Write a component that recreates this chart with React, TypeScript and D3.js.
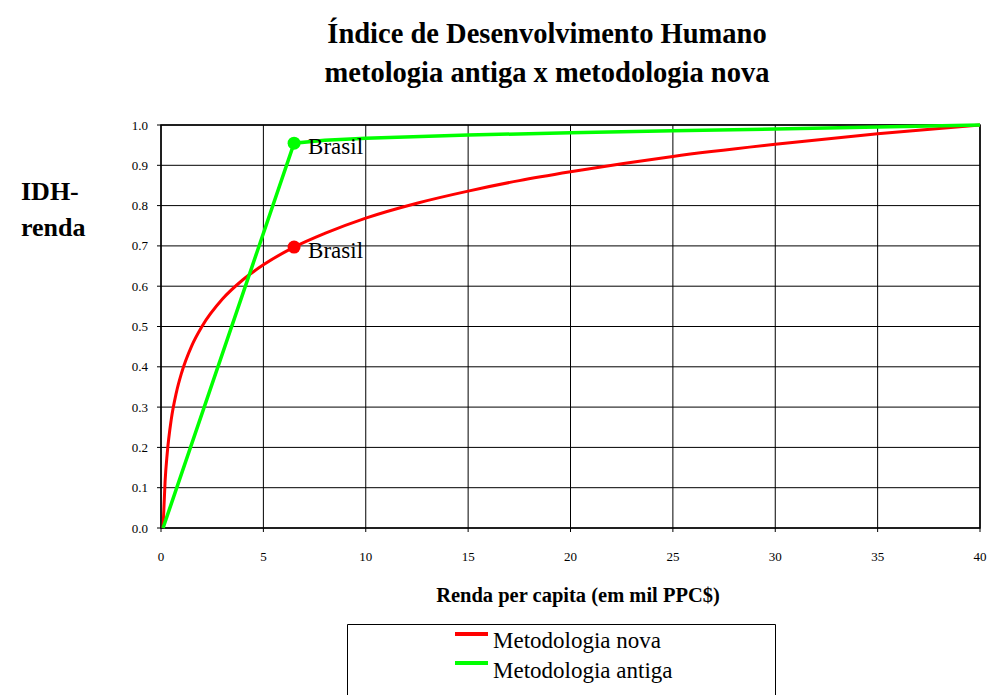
import React, { useEffect, useRef } from 'react';
import * as d3 from 'd3';

// renda per capita (mil PPC$) e IDH-renda
const novaX = [0.1, 0.2, 0.3, 0.5, 0.75, 1, 1.5, 2, 3, 4, 5, 6.5, 8, 10, 12.5, 15, 17.5, 20, 25, 30, 35, 40];
const novaY = [0.0, 0.116, 0.183, 0.269, 0.336, 0.384, 0.452, 0.5, 0.568, 0.616, 0.653, 0.697, 0.731, 0.769, 0.806, 0.836, 0.862, 0.884, 0.922, 0.952, 0.978, 1.0];
const antigaX = [0.1, 6.5, 8, 10, 15, 20, 25, 30, 35, 40];
const antigaY = [0.0, 0.955, 0.962, 0.967, 0.975, 0.981, 0.986, 0.99, 0.995, 1.0];
const brasilX = 6.5;
const brasilNova = 0.697;
const brasilAntiga = 0.955;
const xTicks = [0, 5, 10, 15, 20, 25, 30, 35, 40];
const yTicks = [0, 0.1, 0.2, 0.3, 0.4, 0.5, 0.6, 0.7, 0.8, 0.9, 1.0];
const legendLabels = ['Metodologia nova', 'Metodologia antiga'];
const colors = ['#ff0000', '#00ff00'];

export default function App() {
  const ref = useRef<SVGSVGElement>(null);

  useEffect(() => {
    const width = 988;
    const height = 695;
    const left = 161, right = 980, top = 125, bottom = 528;
    const font = '"Liberation Serif", "Times New Roman", serif';

    const svg = d3.select(ref.current);
    svg.selectAll('*').remove();
    svg.attr('width', width).attr('height', height);

    const x = d3.scaleLinear().domain([0, 40]).range([left, right]);
    const y = d3.scaleLinear().domain([0, 1]).range([bottom, top]);

    // titulo
    const title = svg.append('g').attr('font-family', font).attr('font-weight', 'bold')
      .attr('font-size', 28.5).attr('text-anchor', 'middle');
    title.append('text').attr('x', 547).attr('y', 43).text('Índice de Desenvolvimento Humano');
    title.append('text').attr('x', 547).attr('y', 82).text('metologia antiga x metodologia nova');

    // rotulo eixo y
    const yl = svg.append('g').attr('font-family', font).attr('font-weight', 'bold').attr('font-size', 26);
    yl.append('text').attr('x', 21).attr('y', 200).text('IDH-');
    yl.append('text').attr('x', 21).attr('y', 236).text('renda');

    // grade
    svg.append('g').selectAll('line').data(yTicks).join('line')
      .attr('x1', left - 4).attr('x2', right)
      .attr('y1', d => y(d)).attr('y2', d => y(d))
      .attr('stroke', '#000').attr('stroke-width', 1);
    svg.append('g').selectAll('line').data(xTicks).join('line')
      .attr('x1', d => x(d)).attr('x2', d => x(d))
      .attr('y1', top).attr('y2', bottom + 4)
      .attr('stroke', '#000').attr('stroke-width', 1);
    svg.append('rect').attr('x', left).attr('y', top).attr('width', right - left).attr('height', bottom - top)
      .attr('fill', 'none').attr('stroke', '#000').attr('stroke-width', 1.5);

    // ticks
    svg.append('g').attr('font-family', font).attr('font-size', 13).attr('text-anchor', 'end')
      .selectAll('text').data(yTicks).join('text')
      .attr('x', left - 13).attr('y', d => y(d) + 4.5)
      .text(d => d3.format('.1f')(d));
    svg.append('g').attr('font-family', font).attr('font-size', 13).attr('text-anchor', 'middle')
      .selectAll('text').data(xTicks).join('text')
      .attr('x', d => x(d)).attr('y', bottom + 33)
      .text(d => d);

    svg.append('text').attr('x', 578).attr('y', 602).attr('font-family', font)
      .attr('font-weight', 'bold').attr('font-size', 20.5).attr('text-anchor', 'middle')
      .text('Renda per capita (em mil PPC$)');

    // series
    const line = d3.line<[number, number]>().x(d => x(d[0])).y(d => y(d[1])).curve(d3.curveMonotoneX);
    const nova = novaX.map((v, i) => [v, novaY[i]] as [number, number]);
    const antiga = antigaX.map((v, i) => [v, antigaY[i]] as [number, number]);
    svg.append('path').datum(nova).attr('d', line).attr('fill', 'none')
      .attr('stroke', colors[0]).attr('stroke-width', 3);
    svg.append('path').datum(antiga).attr('d', d3.line<[number, number]>().x(d => x(d[0])).y(d => y(d[1])))
      .attr('fill', 'none').attr('stroke', colors[1]).attr('stroke-width', 3.5);

    // Brasil
    const pts = [[brasilX, brasilNova, colors[0]], [brasilX, brasilAntiga, colors[1]]] as [number, number, string][];
    svg.append('g').selectAll('circle').data(pts).join('circle')
      .attr('cx', d => x(d[0])).attr('cy', d => y(d[1])).attr('r', 6.5).attr('fill', d => d[2]);
    svg.append('g').attr('font-family', font).attr('font-size', 23)
      .selectAll('text').data(pts).join('text')
      .attr('x', d => x(d[0]) + 14).attr('y', d => y(d[1]) + 11).text('Brasil');

    // legenda
    const lg = svg.append('g');
    lg.append('path').attr('d', 'M347.5,700 V624.5 H775.5 V700').attr('fill', 'none')
      .attr('stroke', '#000').attr('stroke-width', 1);
    lg.selectAll('line').data(legendLabels).join('line')
      .attr('x1', 455).attr('x2', 488)
      .attr('y1', (d, i) => 634 + i * 29).attr('y2', (d, i) => 634 + i * 29)
      .attr('stroke', (d, i) => colors[i]).attr('stroke-width', 4);
    lg.selectAll('text').data(legendLabels).join('text')
      .attr('x', 493).attr('y', (d, i) => 648 + i * 30)
      .attr('font-family', font).attr('font-size', 23).text(d => d);
  }, []);

  return <svg ref={ref} style={{ position: 'absolute', left: 0, top: 0 }} />;
}
